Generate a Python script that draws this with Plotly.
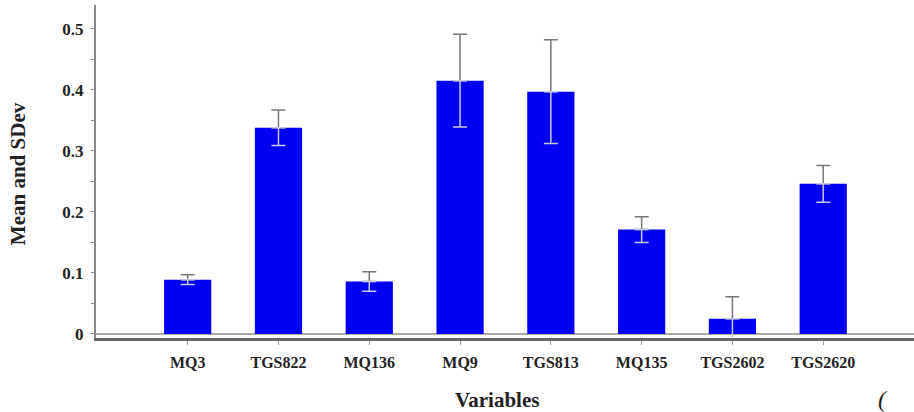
import plotly.graph_objects as go

categories = ["MQ3", "TGS822", "MQ136", "MQ9", "TGS813", "MQ135", "TGS2602", "TGS2620"]
means = [0.089, 0.338, 0.086, 0.415, 0.397, 0.171, 0.025, 0.246]
sdevs = [0.008, 0.029, 0.016, 0.076, 0.085, 0.021, 0.036, 0.030]
y_ticks = [0, 0.1, 0.2, 0.3, 0.4, 0.5]
y_tick_labels = ["0", "0.1", "0.2", "0.3", "0.4", "0.5"]

font_family = "Liberation Serif"
idx = list(range(len(categories)))

fig = go.Figure()
fig.add_trace(go.Bar(
    x=idx, y=means, width=0.52,
    marker=dict(color="#0000f5", line=dict(width=0)),
    error_y=dict(type="data", symmetric=False, array=sdevs, arrayminus=[0]*len(sdevs),
                 color="#777777", thickness=1.5, width=7),
    showlegend=False,
))
fig.add_trace(go.Scatter(
    x=idx, y=means, mode="markers", marker=dict(size=1, opacity=0),
    error_y=dict(type="data", symmetric=False, array=[0]*len(sdevs), arrayminus=sdevs,
                 color="#c8c8e8", thickness=1.5, width=7),
    showlegend=False, hoverinfo="skip",
))

fig.update_layout(
    width=914, height=412,
    margin=dict(l=96, r=0, t=5, b=74),
    paper_bgcolor="white", plot_bgcolor="white",
    font=dict(family=font_family, color="#222222"),
    xaxis=dict(
        range=[-1.01, 8.0], tickmode="array", tickvals=idx, ticktext=categories,
        showgrid=False, zeroline=False, showline=True, linecolor="#666666", linewidth=3,
        ticks="outside", ticklen=4, tickcolor="#999999", tickwidth=1,
        tickfont=dict(family=font_family, size=16, color="#222222", weight="bold"),
        ticklabelstandoff=4,
    ),
    yaxis=dict(
        range=[-0.0066, 0.539], tickmode="array", tickvals=y_ticks, ticktext=y_tick_labels,
        showgrid=False, zeroline=True, zerolinecolor="#aaaaaa", zerolinewidth=1.5,
        showline=True, linecolor="#888888", linewidth=2,
        ticks="outside", ticklen=3, tickcolor="#888888",
        minor=dict(dtick=0.05, ticks="outside", ticklen=3, tickcolor="#888888"),
        tickfont=dict(family=font_family, size=17, color="#222222", weight="bold"),
        ticklabelstandoff=4,
    ),
    annotations=[
        dict(text="<b>Variables</b>", xref="paper", yref="paper", x=0.49, y=-0.187,
             xanchor="center", yanchor="middle", showarrow=False,
             font=dict(family=font_family, size=21, color="#222222")),
        dict(text="<b>Mean and SDev</b>", xref="paper", yref="paper", x=-0.0954, y=0.495,
             xanchor="center", yanchor="middle", textangle=-90, showarrow=False,
             font=dict(family=font_family, size=21, color="#222222")),
        dict(text="<i>(</i>", xref="paper", yref="paper", x=0.962, y=-0.182,
             xanchor="center", yanchor="middle", showarrow=False,
             font=dict(family=font_family, size=24, color="#222222")),
    ],
)

fig.write_html("out.html", config={"displayModeBar": False},
               post_script="document.body.style.margin='0';")
